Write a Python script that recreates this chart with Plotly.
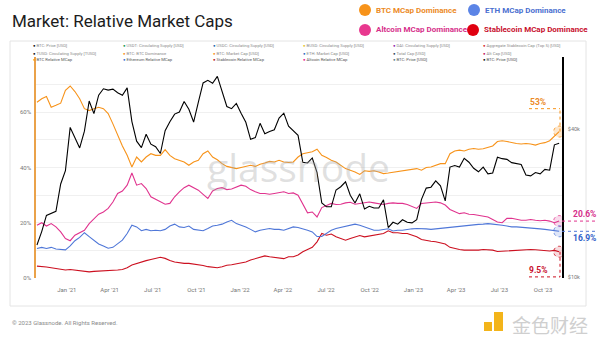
import plotly.graph_objects as go
import pandas as pd
import math

# ---------------- data ----------------
dates = pd.date_range("2020-10-30", periods=111, freq="10D")

btc_dom = [63.6, 64.9, 65.7, 61.8, 62.5, 63.3, 67.9, 69.5, 67.5, 64.9,
           61.3, 60.6, 61.3, 61.8, 61.3, 59.5, 55.8, 51.5, 47.8, 44.4,
           40.2, 43.8, 42.0, 43.8, 45.0, 44.4, 44.4, 46.5, 44.4, 43.2,
           42.6, 42.0, 40.8, 42.0, 42.6, 45.0, 46.0, 43.8, 42.8, 41.4,
           40.4, 40.0, 39.6, 40.0, 40.4, 40.8, 40.4, 41.2, 41.6, 42.2,
           42.0, 42.6, 42.0, 41.8, 42.0, 43.8, 45.0, 45.4, 45.7, 46.6,
           44.4, 43.6, 42.6, 42.0, 40.8, 39.6, 39.0, 38.4, 37.5, 38.8,
           38.6, 38.8, 38.4, 37.8, 38.0, 38.3, 38.4, 38.8, 39.0, 39.3,
           39.6, 39.0, 40.0, 40.2, 40.8, 41.4, 41.4, 45.0, 46.0, 46.3,
           46.0, 46.6, 46.9, 46.6, 46.8, 47.3, 47.8, 49.4, 49.7, 49.4,
           49.0, 48.7, 48.5, 48.7, 48.5, 48.1, 48.7, 49.0, 49.7, 51.4, 53.0]

alt_dom = [19.1, 20.0, 18.8, 19.7, 18.5, 16.7, 14.3, 13.5, 15.5, 16.4,
           17.3, 19.7, 21.6, 23.1, 23.9, 25.2, 27.5, 30.6, 31.5, 33.6,
           38.0, 33.6, 34.2, 32.4, 29.4, 28.4, 27.5, 26.7, 27.0, 29.4,
           31.2, 32.7, 33.6, 32.7, 31.8, 30.3, 28.8, 31.5, 32.4, 32.7,
           32.0, 32.2, 33.0, 33.6, 33.2, 32.0, 31.2, 30.6, 30.6, 30.3,
           30.6, 30.8, 31.2, 30.6, 30.8, 30.0, 27.0, 23.6, 23.9, 22.1,
           25.5, 26.4, 27.0, 26.6, 26.7, 27.2, 27.4, 26.7, 27.0, 27.4,
           27.5, 27.2, 27.0, 26.6, 27.0, 27.2, 27.0, 27.0, 26.6, 26.0,
           25.2, 27.0, 27.2, 27.4, 27.5, 27.2, 26.4, 24.8, 23.9, 23.3,
           23.6, 23.1, 23.0, 22.7, 22.4, 22.1, 21.2, 20.3, 20.0, 21.6,
           21.6, 21.2, 20.9, 20.9, 21.2, 20.9, 20.7, 20.9, 20.6, 20.0, 20.6]

eth_dom = [10.7, 11.1, 10.7, 11.1, 10.5, 10.4, 10.2, 11.6, 13.5, 14.7,
           16.4, 15.0, 13.5, 12.3, 11.6, 10.8, 11.1, 12.5, 13.7, 16.1,
           19.1, 18.5, 17.1, 17.6, 17.1, 17.3, 17.1, 17.6, 18.8, 19.5,
           18.5, 18.3, 18.8, 17.6, 17.3, 17.1, 17.9, 18.8, 19.1, 19.5,
           20.3, 20.9, 19.7, 19.1, 18.5, 17.6, 16.7, 17.3, 17.6, 17.9,
           17.6, 17.6, 17.3, 17.9, 18.5, 18.3, 17.9, 17.3, 16.7, 15.0,
           15.0, 16.1, 17.3, 17.9, 18.3, 18.8, 19.1, 19.5, 19.1, 18.5,
           17.9, 17.3, 17.3, 17.6, 17.8, 17.0, 17.3, 17.3, 17.6, 17.8,
           17.9, 17.9, 17.8, 17.6, 17.8, 17.9, 18.2, 18.3, 18.5, 18.8,
           19.0, 19.1, 19.2, 19.4, 19.5, 19.7, 19.5, 19.4, 19.1, 18.8,
           18.5, 18.5, 18.4, 18.3, 18.2, 17.9, 17.8, 17.6, 17.3, 17.2, 16.9]

stable_dom = [4.3, 4.2, 4.0, 3.7, 3.4, 3.1, 2.9, 3.1, 2.9, 2.6,
              2.3, 2.2, 2.4, 2.5, 2.5, 2.5, 2.6, 2.9, 3.1, 3.7,
              4.7, 5.3, 5.9, 6.3, 6.7, 7.0, 7.5, 7.1, 6.3, 5.8,
              5.5, 5.3, 5.3, 5.1, 4.8, 4.5, 4.1, 3.9, 3.7, 4.1,
              4.6, 4.8, 5.1, 5.3, 5.8, 6.5, 7.0, 7.5, 8.0, 7.7,
              7.5, 7.2, 7.0, 7.7, 7.7, 8.3, 9.5, 10.3, 11.1, 13.1,
              16.1, 15.5, 15.9, 14.9, 14.3, 13.7, 14.3, 14.9, 15.4, 14.9,
              15.2, 15.5, 15.9, 16.1, 17.1, 16.4, 16.4, 16.1, 16.1, 15.5,
              14.9, 13.9, 13.5, 13.3, 13.1, 12.7, 12.3, 11.1, 10.6, 10.3,
              10.1, 10.1, 10.0, 10.1, 10.3, 10.3, 10.1, 9.6, 9.7, 9.8,
              10.0, 10.1, 10.2, 10.3, 10.3, 10.2, 10.1, 10.1, 9.8, 10.0, 9.5]

btc_price_k = [13.5, 15.3, 17.8, 18.2, 18.5, 23.9, 27.1, 40.6, 36.6, 33.5,
               39.2, 52.0, 46.2, 54.9, 58.3, 57.6, 58.1, 56.2, 54.9, 58.8,
               42.9, 35.7, 33.6, 38.1, 34.7, 33.9, 31.8, 39.4, 42.8, 46.0,
               46.9, 51.8, 48.1, 42.7, 51.5, 61.6, 63.1, 61.4, 65.5, 57.1,
               49.4, 48.4, 50.8, 46.4, 42.6, 36.3, 36.9, 42.2, 38.3, 39.1,
               39.7, 44.3, 46.4, 41.1, 39.5, 37.7, 29.3, 29.1, 30.5, 26.6,
               20.0, 19.3, 19.3, 22.6, 23.3, 24.4, 21.5, 20.0, 21.8, 18.9,
               19.4, 19.1, 19.1, 20.6, 15.9, 16.7, 16.4, 17.1, 16.7, 16.6,
               17.1, 20.7, 23.0, 23.2, 24.6, 23.5, 20.4, 28.0, 28.4, 28.0,
               30.4, 29.3, 27.7, 26.8, 28.0, 26.3, 26.5, 30.7, 30.3, 30.1,
               29.2, 29.0, 28.7, 26.0, 25.8, 26.6, 26.3, 27.4, 27.2, 34.5, 35.0]

x_tick_vals = ["2021-01-01", "2021-04-01", "2021-07-01", "2021-10-01",
               "2022-01-01", "2022-04-01", "2022-07-01", "2022-10-01",
               "2023-01-01", "2023-04-01", "2023-07-01", "2023-10-01"]
x_tick_text = ["Jan '21", "Apr '21", "Jul '21", "Oct '21", "Jan '22", "Apr '22",
               "Jul '22", "Oct '22", "Jan '23", "Apr '23", "Jul '23", "Oct '23"]
y_tick_vals = [0, 20, 40, 60]
y_tick_text = ["0%", "20%", "40%", "60%"]
price_tick_vals = [10000, 40000]
price_tick_text = ["$10k", "$40k"]

legend_items = [
    ("BTC MCap Dominance", "#f7931a", "#ec8a25"),
    ("ETH MCap Dominance", "#5b84e6", "#4a6fd0"),
    ("Altcoin MCap Dominance", "#e8388f", "#d62f8a"),
    ("Stablecoin MCap Dominance", "#e00010", "#c8102e"),
]

mini_legend = [
    [("BTC: Price [USD]", "#111"), ("USDT: Circulating Supply [USD]", "#1a9850"),
     ("USDC: Circulating Supply [USD]", "#2166ac"), ("BUSD: Circulating Supply [USD]", "#e6c229"),
     ("DAI: Circulating Supply [USD]", "#8e24aa"), ("Aggregate Stablecoin Cap (Top 5) [USD]", "#d62728")],
    [("TUSD: Circulating Supply [TUSD]", "#111"), ("BTC: BTC Dominance", "#f7931a"),
     ("BTC: Market Cap [USD]", "#f7931a"), ("ETH: Market Cap [USD]", "#2d6bbf"),
     ("Total Cap [USD]", "#34495e"), ("Alt Cap [USD]", "#c2185b")],
    [("BTC Relative MCap", "#f7931a"), ("Ethereum Relative MCap", "#3d6fd4"),
     ("Stablecoin Relative MCap", "#b71c1c"), ("Altcoin Relative MCap", "#e91e8c"),
     ("BTC: Price [USD]", "#607d8b"), ("BTC: Price [USD]", "#111")],
]

# ---------------- layout geometry ----------------
W, H = 600, 340
L, R, T, B = 36, 38, 57, 62
PW, PH = W - L - R, H - T - B


def px(x):
    return (x - L) / PW


def py(y):
    return (H - B - y) / PH


ORANGE, BLUE, PINK, RED = "#f7931a", "#4f77d8", "#e0338e", "#cc1020"

fig = go.Figure()
line_w = 1.1
fig.add_trace(go.Scatter(x=dates, y=stable_dom, mode="lines", line=dict(color=RED, width=line_w), hoverinfo="skip"))
fig.add_trace(go.Scatter(x=dates, y=eth_dom, mode="lines", line=dict(color=BLUE, width=line_w), hoverinfo="skip"))
fig.add_trace(go.Scatter(x=dates, y=alt_dom, mode="lines", line=dict(color=PINK, width=line_w), hoverinfo="skip"))
fig.add_trace(go.Scatter(x=dates, y=btc_dom, mode="lines", line=dict(color=ORANGE, width=line_w), hoverinfo="skip"))
fig.add_trace(go.Scatter(x=dates, y=[v * 1000 for v in btc_price_k], mode="lines", yaxis="y2",
                         line=dict(color="#000000", width=line_w), hoverinfo="skip"))

shapes = []
annotations = []

# card
shapes.append(dict(type="rect", xref="paper", yref="paper", x0=px(10), x1=px(586), y0=py(306), y1=py(41),
                   line=dict(color="#e4e4e4", width=1), fillcolor="rgba(0,0,0,0)", layer="below"))

# title
annotations.append(dict(xref="paper", yref="paper", x=px(10), y=py(21), xanchor="left", yanchor="middle",
                        text="Market: Relative Market Caps", showarrow=False,
                        font=dict(family="Roboto", size=17, color="#1c1c1c")))

# top-right legend
pos = [(365, 10), (474, 10), (365, 30), (473, 30)]
for (label, cc, tc), (cx, cy) in zip(legend_items, pos):
    shapes.append(dict(type="circle", xref="paper", yref="paper", x0=px(cx - 6), x1=px(cx + 6),
                       y0=py(cy + 6), y1=py(cy - 6), fillcolor=cc, line=dict(width=0)))
    annotations.append(dict(xref="paper", yref="paper", x=px(cx + 9), y=py(cy), xanchor="left", yanchor="middle",
                            text="<b>" + label + "</b>", showarrow=False,
                            font=dict(family="Roboto", size=8, color=tc)))

# mini legend rows inside the card
cols = [33, 123, 213, 303, 393, 483]
rows = [46, 53, 60]
for r_i, row in enumerate(mini_legend):
    for c_i, (label, col) in enumerate(row):
        tcol = "#555" if r_i == 2 else "#8a8a8a"
        annotations.append(dict(xref="paper", yref="paper", x=px(cols[c_i] - 2), y=py(rows[r_i]),
                                xanchor="left", yanchor="middle", showarrow=False,
                                text="<span style='color:%s'>●</span> %s" % (col, label),
                                font=dict(family="Roboto", size=4.2, color=tcol)))

# glassnode watermark
annotations.append(dict(xref="paper", yref="paper", x=px(298), y=py(166), xanchor="center", yanchor="middle",
                        text="glassnode", showarrow=False,
                        font=dict(family="Open Sans", size=39, color="rgba(165,165,165,0.34)")))

# end-point markers and value labels
last_date = dates[-1]
ends = [(btc_dom[-1], ORANGE, "rgba(247,147,26,0.22)"), (alt_dom[-1], PINK, "rgba(224,51,142,0.18)"),
        (eth_dom[-1], BLUE, "rgba(79,119,216,0.18)"), (stable_dom[-1], RED, "rgba(204,16,32,0.15)")]
for val, col, fill in ends:
    shapes.append(dict(type="circle", xref="x", yref="y", xsizemode="pixel", ysizemode="pixel",
                       xanchor=last_date, yanchor=val, x0=-5.5, x1=5.5, y0=-5.5, y1=5.5,
                       fillcolor=fill, line=dict(color=col, width=0.8, dash="dot")))

xe = px(560)
# BTC: vertical up to label line
btc_lvl = 61.3
shapes.append(dict(type="line", xref="paper", yref="y", x0=xe, x1=xe, y0=btc_dom[-1], y1=btc_lvl,
                   line=dict(color=ORANGE, width=1, dash="dot")))
shapes.append(dict(type="line", xref="paper", yref="y", x0=px(529), x1=xe, y0=btc_lvl, y1=btc_lvl,
                   line=dict(color=ORANGE, width=1, dash="dot")))
annotations.append(dict(xref="paper", yref="y", x=px(538), y=btc_lvl, xanchor="center", yanchor="bottom",
                        yshift=0, text="<b>%d%%</b>" % round(btc_dom[-1]), showarrow=False,
                        font=dict(family="Roboto", size=8.5, color="#ec8a25")))
# Stablecoin: vertical down to label line
st_lvl = 0.4
shapes.append(dict(type="line", xref="paper", yref="y", x0=xe, x1=xe, y0=stable_dom[-1], y1=st_lvl,
                   line=dict(color=RED, width=1, dash="dot")))
shapes.append(dict(type="line", xref="paper", yref="y", x0=px(529), x1=xe, y0=st_lvl, y1=st_lvl,
                   line=dict(color=RED, width=1, dash="dot")))
annotations.append(dict(xref="paper", yref="y", x=px(538), y=st_lvl, xanchor="center", yanchor="bottom",
                        text="<b>%.1f%%</b>" % stable_dom[-1], showarrow=False,
                        font=dict(family="Roboto", size=8.5, color="#c8102e")))
# Altcoin and ETH: horizontal to the right
for val, col, tcol, anchor in [(alt_dom[-1], PINK, "#d62f8a", "bottom"), (eth_dom[-1], BLUE, "#3060c8", "top")]:
    shapes.append(dict(type="line", xref="paper", yref="y", x0=px(562), x1=px(598), y0=val, y1=val,
                       line=dict(color=col, width=1, dash="dot")))
    annotations.append(dict(xref="paper", yref="y", x=px(584), y=val, xanchor="center", yanchor=anchor,
                            text="<b>%.1f%%</b>" % val, showarrow=False,
                            font=dict(family="Roboto", size=8.5, color=tcol)))

# footer
annotations.append(dict(xref="paper", yref="paper", x=px(10), y=py(322), xanchor="left", yanchor="middle",
                        text="© 2023 Glassnode. All Rights Reserved.", showarrow=False,
                        font=dict(family="Roboto", size=6, color="#8a8a8a")))

# corner logo watermark
shapes.append(dict(type="rect", xref="paper", yref="paper", x0=px(494), x1=px(503), y0=py(331), y1=py(312),
                   fillcolor="#f3b41a", line=dict(width=0)))
shapes.append(dict(type="rect", xref="paper", yref="paper", x0=px(484), x1=px(492), y0=py(331), y1=py(322),
                   fillcolor="#f3b41a", line=dict(width=0)))
annotations.append(dict(xref="paper", yref="paper", x=px(550), y=py(324), xanchor="center", yanchor="middle",
                        text="金色财经", showarrow=False,
                        font=dict(family="Noto Sans CJK SC", size=19, color="#cfcfcf")))

fig.update_layout(
    width=W, height=H, margin=dict(l=L, r=R, t=T, b=B),
    paper_bgcolor="#ffffff", plot_bgcolor="#ffffff", showlegend=False,
    font=dict(family="Roboto", color="#777"),
    xaxis=dict(type="date", range=["2020-10-28", "2023-11-10"], tickvals=x_tick_vals, ticktext=x_tick_text,
               showgrid=False, zeroline=False, showline=False, ticks="outside", ticklen=6,
               tickcolor="rgba(0,0,0,0)", tickfont=dict(size=6, color="#777")),
    yaxis=dict(range=[0, 80], tickvals=y_tick_vals, ticktext=y_tick_text, showgrid=True, gridcolor="#f0f0f0",
               gridwidth=1, zeroline=False, showline=True, linecolor="#eaa24a", linewidth=1.5,
               ticks="outside", ticklen=2, tickcolor="rgba(0,0,0,0)", tickfont=dict(size=6, color="#777"),
               minor=dict(tickvals=[10, 30, 50, 70], showgrid=True, gridcolor="#f0f0f0", gridwidth=1)),
    yaxis2=dict(type="log", range=[3.996, 4.895], overlaying="y", side="right", tickvals=price_tick_vals,
                ticktext=price_tick_text, showgrid=False, zeroline=False, showline=True, linecolor="#000",
                linewidth=1.5, ticks="outside", ticklen=3, tickcolor="rgba(0,0,0,0)",
                tickfont=dict(size=5.5, color="#777")),
    shapes=shapes, annotations=annotations,
)

fig.write_html("out.html")
